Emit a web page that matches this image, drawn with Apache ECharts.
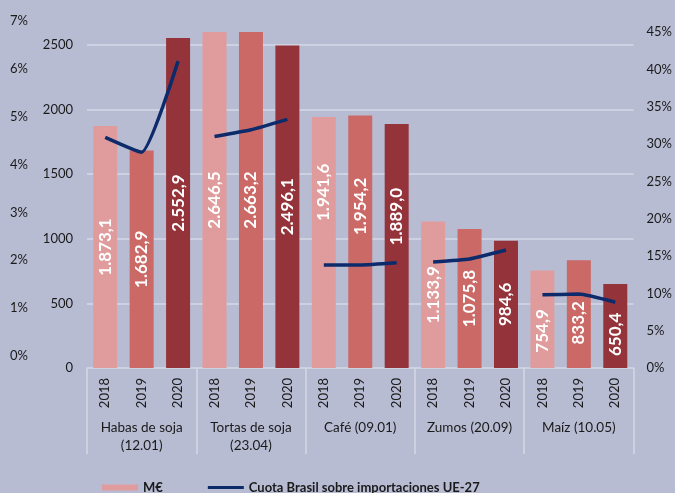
<!DOCTYPE html>
<html>
<head>
<meta charset="utf-8">
<script src="https://cdn.jsdelivr.net/npm/echarts@6/dist/echarts.min.js"></script>
<style>
  html, body { margin: 0; padding: 0; background: #B8BCD3; }
  #chart { width: 675px; height: 493px; }
</style>
</head>
<body>
<div id="chart"></div>
<script>
// data
var groups = ['Habas de soja\n(12.01)', 'Tortas de soja\n(23.04)', 'Café (09.01)', 'Zumos (20.09)', 'Maíz (10.05)'];
var years = ['2018', '2019', '2020'];
var valuesMEur = [1873.1, 1682.9, 2552.9, 2646.5, 2663.2, 2496.1, 1941.6, 1954.2, 1889.0, 1133.9, 1075.8, 984.6, 754.9, 833.2, 650.4];
var shareBrazil = [30.9, 28.9, 41.1, 31.0, 31.9, 33.3, 13.8, 13.8, 14.1, 14.2, 14.6, 15.8, 9.8, 9.9, 8.8];
var leftPctTicks = [0, 7];

var yearColors = ['#E09C9C', '#CB6966', '#94343A'];
var lineColor = '#0D2B6B';
var lineName = 'Cuota Brasil sobre importaciones UE-27';
var font = 'Lato';
var txt = '#1a1a1a';
var gridColor = '#D6D8E6';
// where the value label sits inside each bar (share of bar height from top), as in the original
var labelSpot = ['50%', '50%', '50%', '50%', '50%', '50%', '30%', '36%', '38%', '50%', '50%', '50%', '62%', '58%', '60%'];

var categories = [];
groups.forEach(function () { years.forEach(function (y) { categories.push(y); }); });

function fmtEs(v) {
    var parts = v.toFixed(1).split('.');
    var intPart = parts[0].replace(/\B(?=(\d{3})+(?!\d))/g, '.');
    return intPart + ',' + parts[1];
}

var barData = valuesMEur.map(function (v, i) {
    return {
        value: v,
        itemStyle: { color: yearColors[i % 3] },
        label: { position: ['50%', labelSpot[i]] }
    };
});

var lineSeries = groups.map(function (g, gi) {
    return {
        name: lineName,
        type: 'line',
        xAxisIndex: 0,
        yAxisIndex: 1,
        symbol: 'none',
        smooth: 0.15,
        z: 5,
        lineStyle: { color: lineColor, width: 3.5 },
        itemStyle: { color: lineColor },
        data: shareBrazil.map(function (v, i) { return Math.floor(i / 3) === gi ? v : '-'; })
    };
});

var myChart = echarts.init(document.getElementById('chart'));
var option = {
    backgroundColor: '#B8BCD3',
    animation: false,
    textStyle: { fontFamily: font },
    grid: [
        { left: 87, right: 38, top: 32, bottom: 125 },
        { left: 36, right: 38, top: 21, bottom: 137 }
    ],
    legend: {
        left: 97,
        top: 476,
        itemWidth: 36,
        itemHeight: 6,
        itemGap: 45,
        symbolKeepAspect: true,
        textStyle: { fontFamily: font, fontSize: 13, fontWeight: 'bold', color: txt },
        data: [
            { name: 'M€', icon: 'rect', itemStyle: { color: yearColors[0] } },
            { name: lineName, icon: 'path://M0,0 L40,0 L40,3.5 L0,3.5 Z', itemStyle: { color: lineColor } }
        ]
    },
    xAxis: [
        {
            type: 'category',
            gridIndex: 0,
            data: categories,
            axisLine: { lineStyle: { color: gridColor, width: 1.5 } },
            axisTick: { show: false },
            axisLabel: { rotate: 90, margin: 10, fontFamily: font, fontSize: 13, color: txt }
        },
        {
            type: 'category',
            gridIndex: 0,
            position: 'bottom',
            data: groups,
            axisLine: { show: false },
            axisTick: { show: true, length: 86, lineStyle: { color: gridColor, width: 1.5 } },
            axisLabel: { margin: 51, fontFamily: font, fontSize: 13.5, lineHeight: 18, color: txt, interval: 0 }
        },
        { type: 'category', gridIndex: 1, show: false, data: [''] }
    ],
    yAxis: [
        {
            type: 'value',
            gridIndex: 0,
            position: 'left',
            min: 0,
            max: 2600,
            interval: 500,
            axisLine: { show: false },
            axisTick: { show: false },
            splitLine: { show: true, showMaxLine: false, showMinLine: false, lineStyle: { color: gridColor, width: 1.5 } },
            axisLabel: {
                margin: 14, showMaxLabel: false, fontFamily: font, fontSize: 13, color: txt,
                formatter: function (v) { return String(v); }
            }
        },
        {
            type: 'value',
            gridIndex: 0,
            position: 'right',
            min: 0,
            max: 45,
            interval: 5,
            axisLine: { show: false },
            axisTick: { show: false },
            splitLine: { show: false },
            axisLabel: { margin: 13, formatter: '{value}%', fontFamily: font, fontSize: 13, color: txt }
        },
        {
            type: 'value',
            gridIndex: 1,
            position: 'left',
            min: leftPctTicks[0],
            max: leftPctTicks[1],
            interval: 1,
            axisLine: { show: false },
            axisTick: { show: false },
            splitLine: { show: false },
            axisLabel: { margin: 8, formatter: '{value}%', fontFamily: font, fontSize: 13, color: txt }
        }
    ],
    series: [
        {
            name: 'M€',
            type: 'bar',
            xAxisIndex: 0,
            yAxisIndex: 0,
            barWidth: 24,
            clip: true,
            itemStyle: { color: yearColors[0] },
            label: {
                show: true,
                rotate: 90,
                align: 'center',
                verticalAlign: 'middle',
                color: '#ffffff',
                fontFamily: font,
                fontSize: 17,
                fontWeight: 'bold',
                formatter: function (p) { return fmtEs(p.value); }
            },
            data: barData
        }
    ].concat(lineSeries)
};
myChart.setOption(option);
</script>
</body>
</html>
